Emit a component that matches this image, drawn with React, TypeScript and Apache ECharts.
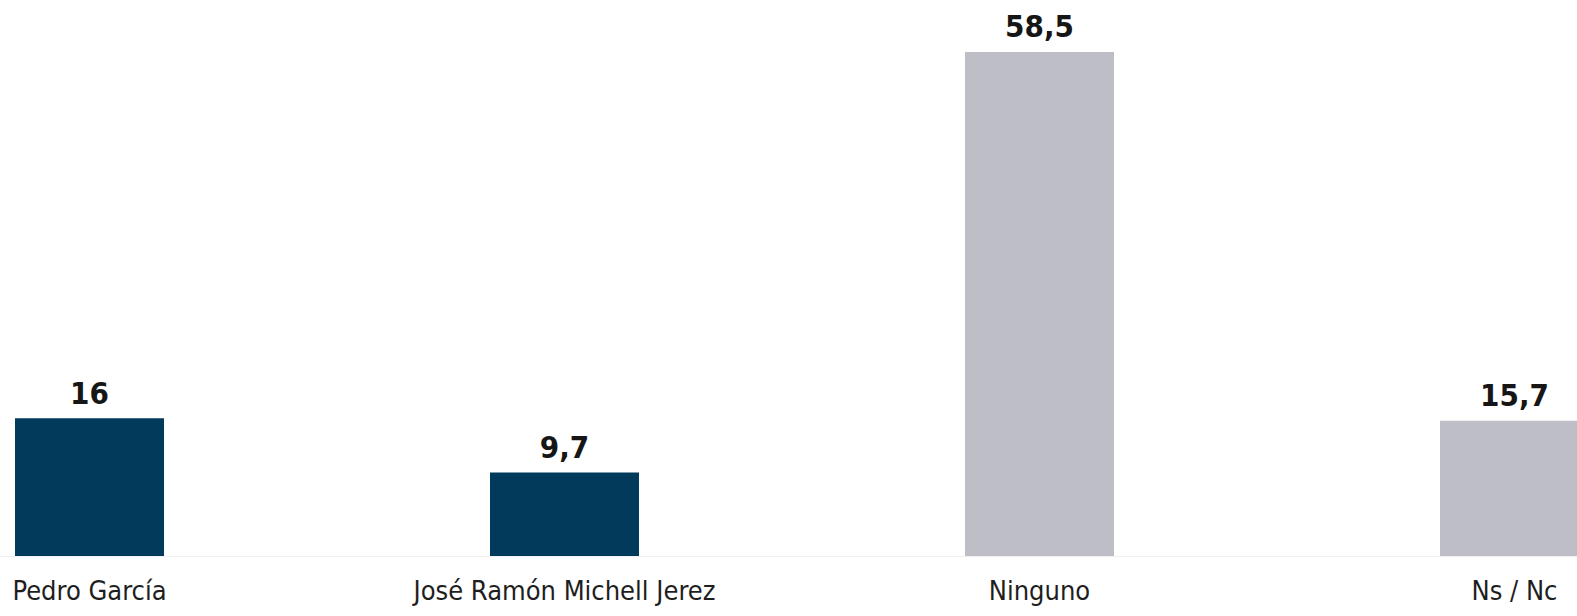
import React, { useEffect, useRef } from "react";
import * as echarts from "echarts";

const categories = ["Pedro García", "José Ramón Michell Jerez", "Ninguno", "Ns / Nc"];
const values = [16, 9.7, 58.5, 15.7];
const barColors = ["#023a5b", "#023a5b", "#bebec6", "#bebec6"];

export default function App() {
  const ref = useRef<HTMLDivElement>(null);
  useEffect(() => {
    if (!ref.current) return;
    const chart = echarts.init(ref.current, null, { renderer: "svg" });
    chart.setOption({
      animation: false,
      backgroundColor: "#ffffff",
      grid: { left: 0, right: 0, top: 39, bottom: 60, containLabel: false },
      xAxis: {
        type: "category",
        data: categories,
        axisLine: { show: true, lineStyle: { color: "#f1f1f1", width: 1 } },
        axisTick: { show: false },
        axisLabel: {
          margin: 21,
          fontFamily: "DejaVu Sans Condensed",
          fontSize: 27,
          color: "#1e1e1e",
          interval: 0,
        },
      },
      yAxis: {
        type: "value",
        min: 0,
        max: 60,
        show: false,
        splitLine: { show: false },
      },
      series: [
        {
          type: "bar",
          barWidth: 149,
          data: values.map((v, i) => ({ value: v, itemStyle: { color: barColors[i] } })),
          label: {
            show: true,
            position: "top",
            distance: 10,
            fontFamily: "DejaVu Sans Condensed",
            fontWeight: "bold",
            fontSize: 31,
            color: "#161616",
            formatter: (p: any) => String(p.value).replace(".", ","),
          },
        },
      ],
    });
    return () => chart.dispose();
  }, []);
  return (
    <div style={{ position: "fixed", left: 0, top: 0, width: 1577, height: 616, overflow: "hidden", background: "#fff" }}>
      <div ref={ref} style={{ position: "absolute", left: -148, top: 0, width: 1900, height: 616 }} />
    </div>
  );
}
